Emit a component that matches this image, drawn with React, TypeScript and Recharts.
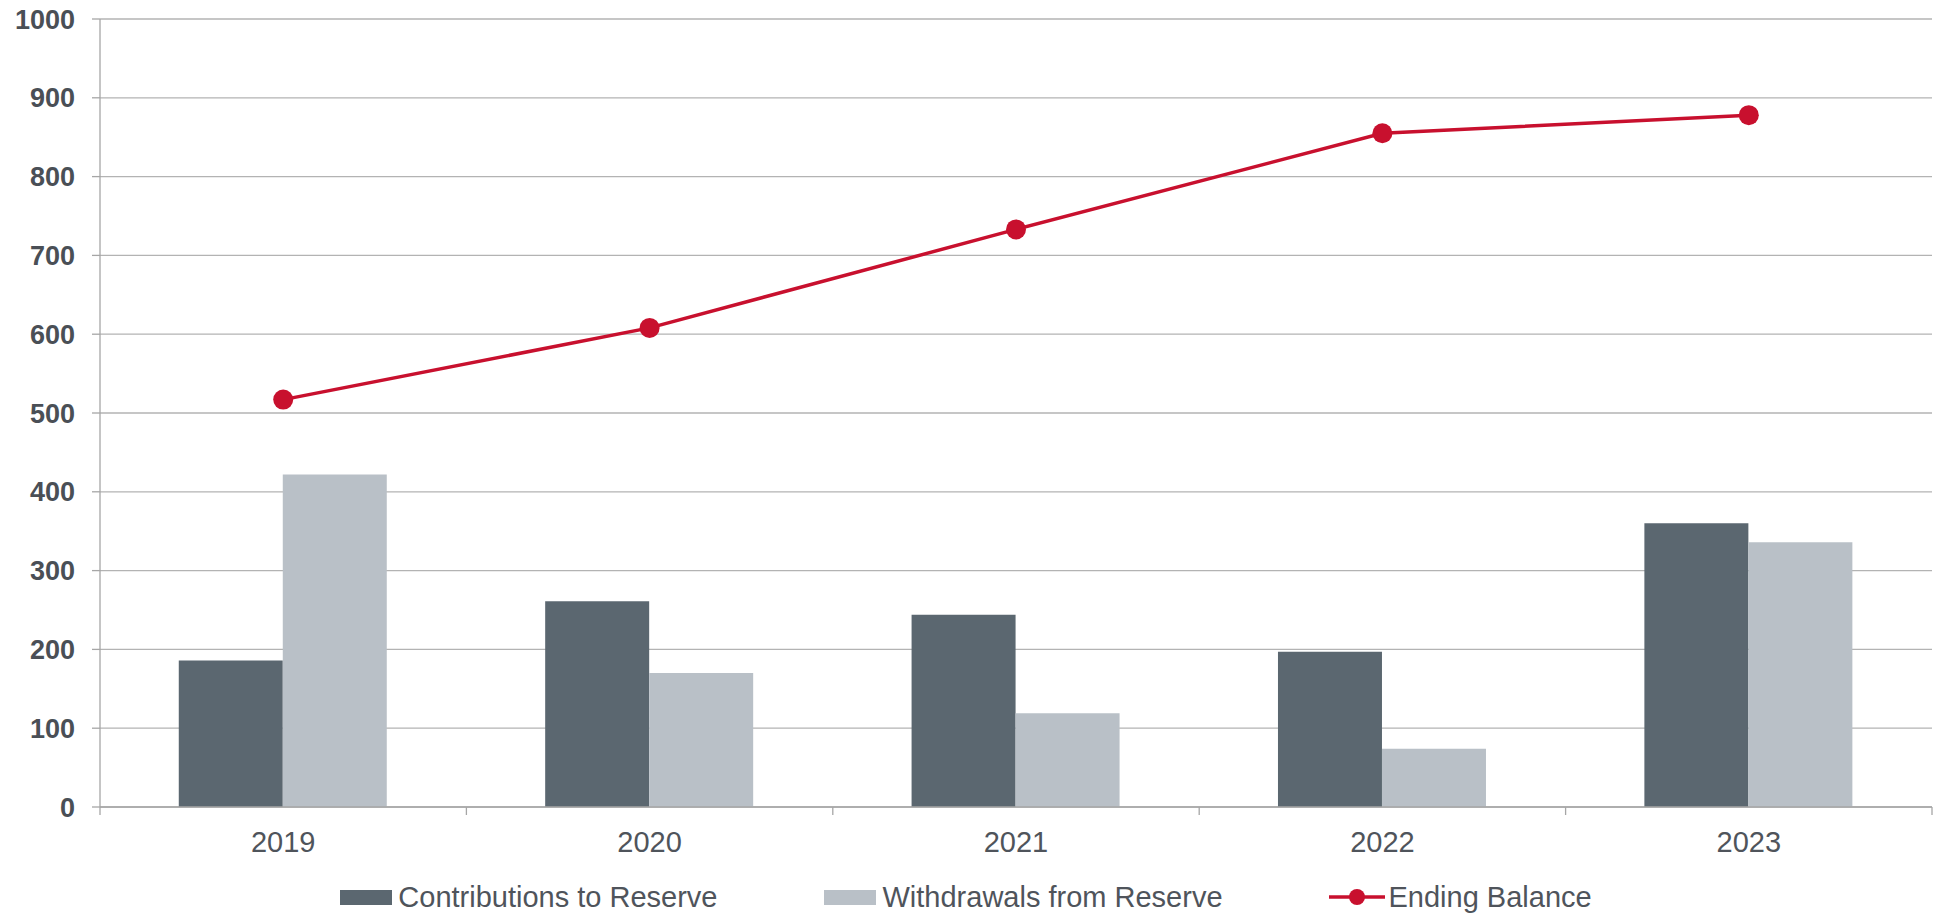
import React from 'react'
import {
  ComposedChart,
  Bar,
  Line,
  XAxis,
  YAxis,
  CartesianGrid,
  Legend,
} from 'recharts'

const years = ['2019', '2020', '2021', '2022', '2023']
const contributions = [186, 261, 244, 197, 360]
const withdrawals = [422, 170, 119, 74, 336]
const endingBalance = [517, 608, 733, 855, 878]
const yTicks = [0, 100, 200, 300, 400, 500, 600, 700, 800, 900, 1000]

const SERIES = {
  contributions: 'Contributions to Reserve',
  withdrawals: 'Withdrawals from Reserve',
  balance: 'Ending Balance',
}

const DARK = '#5b6770'
const LIGHT = '#b9c0c7'
const RED = '#c8102e'
const AXIS = '#a6a6a6'
const GRID = '#b3b3b3'
const TEXT = '#4f545b'
const FONT = '"Liberation Sans", Arial, sans-serif'

const data = years.map((year, i) => ({
  year,
  contributions: contributions[i],
  withdrawals: withdrawals[i],
  balance: endingBalance[i],
}))

// category labels plus the small ticks that sit on the band edges
function YearTick(props: any) {
  const { x, y, payload, index, width } = props
  const half = payload?.offset || width / years.length / 2
  const isLast = index === years.length - 1
  return (
    <g>
      <line x1={x - half} x2={x - half} y1={y - 24} y2={y - 16} stroke={AXIS} strokeWidth={1.3} />
      {isLast && (
        <line x1={x + half} x2={x + half} y1={y - 24} y2={y - 16} stroke={AXIS} strokeWidth={1.3} />
      )}
      <text x={x} y={y} dy="0.71em" textAnchor="middle" fill={TEXT} fontSize={29} fontFamily={FONT}>
        {payload.value}
      </text>
    </g>
  )
}

function LegendContent() {
  const item = { display: 'flex', alignItems: 'center' } as const
  return (
    <div
      style={{
        display: 'flex',
        justifyContent: 'center',
        alignItems: 'center',
        height: 40,
        fontFamily: FONT,
        fontSize: 29,
        color: TEXT,
        whiteSpace: 'nowrap',
      }}
    >
      <div style={{ ...item, marginRight: 107 }}>
        <span style={{ display: 'inline-block', width: 52, height: 15, background: DARK, marginRight: 6 }} />
        {SERIES.contributions}
      </div>
      <div style={{ ...item, marginRight: 106 }}>
        <span style={{ display: 'inline-block', width: 52, height: 15, background: LIGHT, marginRight: 6 }} />
        {SERIES.withdrawals}
      </div>
      <div style={item}>
        <svg width={56} height={20} style={{ marginRight: 4 }}>
          <line x1={0} x2={56} y1={10} y2={10} stroke={RED} strokeWidth={3.5} />
          <circle cx={28} cy={10} r={8} fill={RED} />
        </svg>
        {SERIES.balance}
      </div>
    </div>
  )
}

export default function App() {
  return (
    <div style={{ position: 'absolute', left: 0, top: 0, width: 1939, height: 917, background: '#fff' }}>
      <ComposedChart
        width={1939}
        height={917}
        data={data}
        margin={{ top: 19, right: 7, bottom: 0, left: 0 }}
        barCategoryGap="21.5%"
        barGap={0}
      >
        <CartesianGrid vertical={false} stroke={GRID} strokeWidth={1.3} />
        <XAxis
          dataKey="year"
          height={70}
          axisLine={{ stroke: AXIS, strokeWidth: 1.3 }}
          tickLine={false}
          tickSize={8}
          tickMargin={16}
          tick={<YearTick />}
        />
        <YAxis
          width={100}
          domain={[0, 1000]}
          ticks={yTicks}
          interval={0}
          axisLine={{ stroke: AXIS, strokeWidth: 1.3 }}
          tickLine={{ stroke: AXIS, strokeWidth: 1.3 }}
          tickSize={8}
          tickMargin={17}
          tick={{ fill: '#4a4f56', fontSize: 27, fontWeight: 'bold', fontFamily: FONT }}
        />
        <Legend verticalAlign="bottom" content={<LegendContent />} />
        <Bar dataKey="contributions" name={SERIES.contributions} fill={DARK} isAnimationActive={false} />
        <Bar dataKey="withdrawals" name={SERIES.withdrawals} fill={LIGHT} isAnimationActive={false} />
        <Line
          dataKey="balance"
          name={SERIES.balance}
          stroke={RED}
          strokeWidth={3.5}
          dot={{ r: 10, fill: RED, stroke: 'none' }}
          activeDot={false}
          isAnimationActive={false}
        />
      </ComposedChart>
    </div>
  )
}
